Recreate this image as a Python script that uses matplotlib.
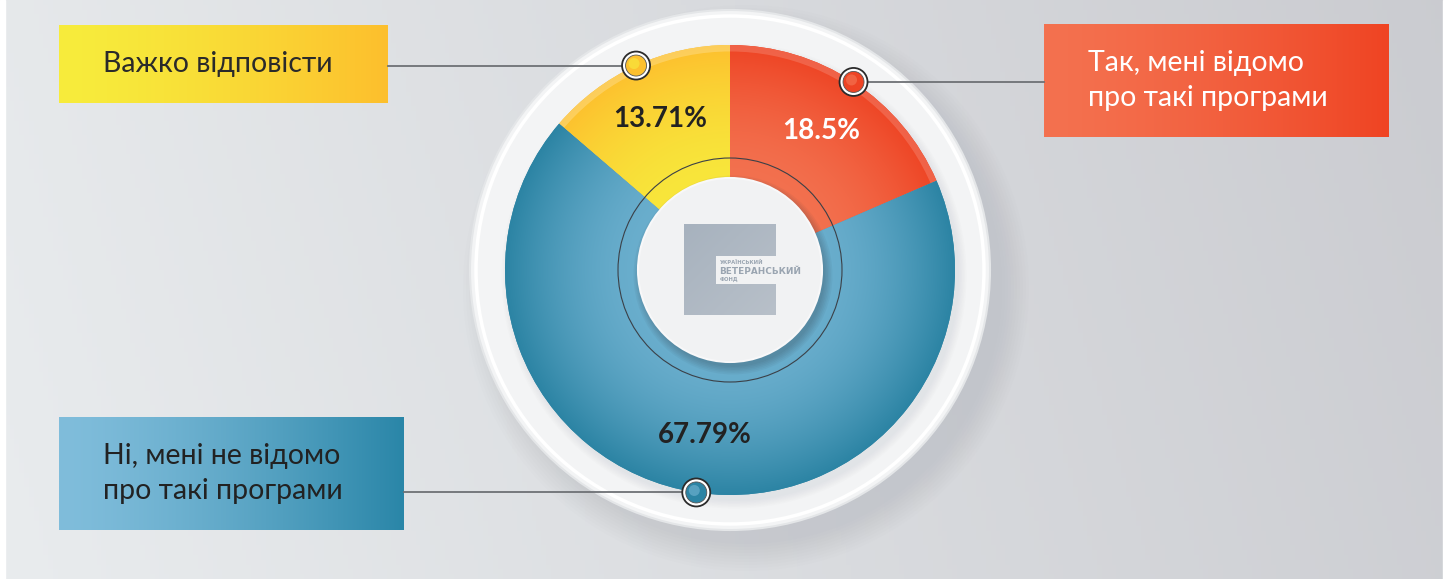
import numpy as np
import matplotlib.pyplot as plt
from matplotlib.colors import to_rgb
from matplotlib.patches import Circle, Rectangle

plt.rcParams['font.family'] = ['Lato', 'Noto Sans', 'DejaVu Sans']

# data
shares = [18.5, 67.79, 13.71]
share_labels = ['18.5%', '67.79%', '13.71%']
answers = ['Так, мені відомо\nпро такі програми',
           'Ні, мені не відомо\nпро такі програми',
           'Важко відповісти']

# colours per slice: inner tone, outer tone, label colour
inner_cols = ['#f3714f', '#6aaecd', '#f8e63b']
outer_cols = ['#ee4424', '#2c84a4', '#fdc02e']
rim_alpha = [0.16, 0.0, 0.22]
pct_cols = ['white', '#222222', '#222222']
box_cols = [('#f4714f', '#ef4423'), ('#80bddb', '#2a86a8'), ('#f7ec3c', '#fdbf2d')]
box_text_cols = ['white', '#222222', '#2a2a2a']
# boxes in image pixels (left, top, right, bottom)
boxes = [(1044, 24, 1389, 137), (59, 417, 404, 530), (59, 25, 388, 103)]

W, H = 1450, 579
cx, cy = 730, H - 270
R_OUT, R_IN = 225, 90


def iy(y):
    return H - y


def mix(c1, c2, t):
    a, b = np.array(to_rgb(c1)), np.array(to_rgb(c2))
    t = np.asarray(t)[..., None]
    return a * (1 - t) + b * t


fig = plt.figure(figsize=(14.5, 5.79), dpi=100)
ax = fig.add_axes([0, 0, 1, 1])

# background
gx, gy = np.meshgrid(np.linspace(0, 1, 300), np.linspace(0, 1, 120))
bg = mix('#e9ecee', '#c9cacf', np.clip(gx * 0.85 + (1 - gy) * 0.1, 0, 1))
ax.imshow(bg, extent=[0, W, 0, H], origin='upper', zorder=0, aspect='auto')
ax.add_patch(Rectangle((0, 0), 5, H, color='white', zorder=1))
ax.add_patch(Rectangle((1443, 0), 7, H, color='white', zorder=1))

# outer ring with soft shadow
for k in range(10):
    ax.add_patch(Circle((cx + 16, cy - 18), 256 + k * 3, color='#9a9ea6',
                        alpha=0.025, lw=0, zorder=2))
ax.add_patch(Circle((cx, cy), 260, facecolor='#f3f4f5', edgecolor='#e4e6e8', lw=1.5, zorder=3))
ax.add_patch(Circle((cx, cy), 254, facecolor='none', edgecolor='white', lw=2.5, zorder=3))
for k in range(6):
    ax.add_patch(Circle((cx + 4, cy - 6), R_OUT + k * 1.5, color='#8d939b',
                        alpha=0.025, lw=0, zorder=3.5))

wedges, _ = ax.pie(shares, startangle=90, counterclock=False, radius=R_OUT,
                   center=(cx, cy), colors=outer_cols,
                   wedgeprops=dict(width=R_OUT - R_IN, linewidth=0))

# radial shading inside each wedge
px, py = np.meshgrid(np.linspace(cx - R_OUT, cx + R_OUT, 450),
                     np.linspace(cy + R_OUT, cy - R_OUT, 450))
rr = np.hypot(px - cx, py - cy)
tt = np.clip((rr - R_IN) / (R_OUT - R_IN), 0, 1) ** 1.6
for w, c_in, c_out, ra in zip(wedges, inner_cols, outer_cols, rim_alpha):
    w.set_zorder(4)
    img = mix(c_in, c_out, tt)
    im = ax.imshow(img, extent=[cx - R_OUT, cx + R_OUT, cy - R_OUT, cy + R_OUT],
                   origin='upper', zorder=4.1)
    im.set_clip_path(w)
    if ra > 0:
        rim = ax.add_patch(Circle((cx, cy), R_OUT - 3, facecolor='none', edgecolor='white',
                                  lw=5, alpha=ra, zorder=4.2))
        rim.set_clip_path(w)

# thin circle and centre disc
ax.add_patch(Circle((cx, cy), 112, facecolor='none', edgecolor='#3b4047', lw=0.8, zorder=5))
for k in range(6):
    ax.add_patch(Circle((cx + 3, cy - 5), 92 + k * 1.5, color='#2d3640',
                        alpha=0.05, lw=0, zorder=5))
ax.add_patch(Circle((cx, cy), 92, facecolor='#f1f2f3', edgecolor='#f8f8f9', lw=1.5, zorder=6))

# logo
sq = np.linspace(0, 1, 60)
ax.imshow(mix('#a7b2be', '#b8c0c9', np.add.outer(sq, sq) / 2),
          extent=[684, 776, iy(315), iy(224)], zorder=7, aspect='auto')
ax.add_patch(Rectangle((716, iy(284)), 60, 28, facecolor='#f1f2f3', lw=0, zorder=7.5))
logo_font = ['DejaVu Sans']
ax.text(720, iy(262), 'УКРАЇНСЬКИЙ', fontsize=3.8, color='#9aa5b1', family=logo_font,
        va='center', ha='left', zorder=8, fontweight='bold')
ax.text(719, iy(271), 'ВЕТЕРАНСЬКИЙ', fontsize=6.4, color='#9aa5b1', family=logo_font,
        va='center', ha='left', zorder=8, fontweight='bold')
ax.text(720, iy(279.5), 'ФОНД', fontsize=3.8, color='#9aa5b1', family=logo_font,
        va='center', ha='left', zorder=8, fontweight='bold')

# labels, markers, leader lines and boxes
for w, lab, pc, c_in, c_out, ans, (l, t, r, b), bc, tc in zip(
        wedges, share_labels, pct_cols, inner_cols, outer_cols,
        answers, boxes, box_cols, box_text_cols):
    mid = np.deg2rad((w.theta1 + w.theta2) / 2)
    ax.text(cx + 0.74 * R_OUT * np.cos(mid), cy + 0.74 * R_OUT * np.sin(mid), lab,
            fontsize=20, fontweight='bold', color=pc, ha='center', va='center', zorder=9)

    mx, my = cx + R_OUT * np.cos(mid), cy + R_OUT * np.sin(mid)
    edge = l if mx < l else r
    ax.plot([mx, edge], [my, my], color='#6e7175', lw=1.3, zorder=8.5)
    ax.add_patch(Circle((mx, my), 14, facecolor='white', edgecolor='#2b2b2b', lw=1.3, zorder=9))
    ax.add_patch(Circle((mx, my), 10.5, facecolor=c_out, edgecolor='#555555', lw=0.6, zorder=9.5))
    ax.add_patch(Circle((mx - 2, my + 2), 5.5, facecolor=c_in, alpha=0.7, lw=0, zorder=9.6))

    grad = mix(bc[0], bc[1], np.linspace(0, 1, 200) ** 1.4)[None, :, :]
    ax.imshow(grad, extent=[l, r, iy(b), iy(t)], zorder=8, aspect='auto')
    lines = ans.split('\n')
    first = (t + b) / 2 - (len(lines) - 1) * 17.5
    for k, line in enumerate(lines):
        ax.text(l + 44, iy(first + 35 * k), line, fontsize=20.5, color=tc,
                ha='left', va='center', zorder=9, fontweight='normal')

ax.set_xlim(0, W)
ax.set_ylim(0, H)
ax.set_aspect('auto')
ax.axis('off')
fig.savefig('out.png', dpi=100)
